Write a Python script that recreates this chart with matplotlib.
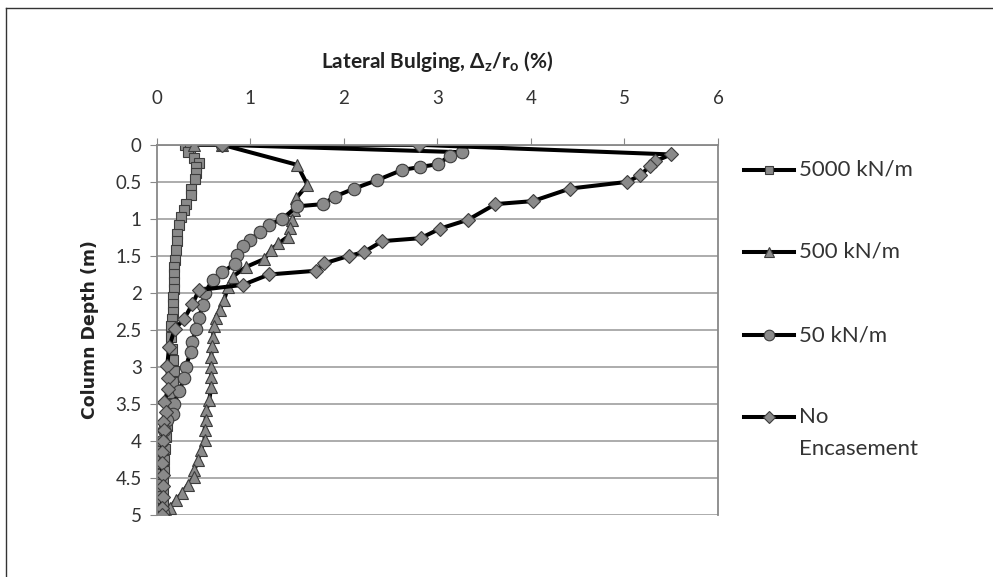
import matplotlib
matplotlib.use('Agg')
import matplotlib.pyplot as plt
from matplotlib.lines import Line2D

plt.rcParams['font.family'] = ['Lato', 'DejaVu Sans']
plt.rcParams['mathtext.fontset'] = 'custom'
plt.rcParams['mathtext.rm'] = 'Lato'
plt.rcParams['mathtext.bf'] = 'Lato:bold'

# 5000 kN/m (squares)
depth_5000 = [0, 0.05, 0.1, 0.18, 0.25, 0.3, 0.38, 0.46, 0.6, 0.68, 0.8, 0.88, 0.97,
              1.08, 1.2, 1.3, 1.42, 1.55, 1.65, 1.75, 1.85, 1.95, 2.05, 2.15, 2.25,
              2.35, 2.45, 2.6, 2.75, 2.9, 3.05, 3.2, 3.35, 3.5, 3.65, 3.8, 3.95, 4.1,
              4.25, 4.4, 4.55, 4.7, 4.85, 5.0]
bulge_5000 = [0.30, 0.35, 0.33, 0.40, 0.45, 0.42, 0.42, 0.41, 0.36, 0.36, 0.31, 0.29, 0.26,
              0.24, 0.22, 0.21, 0.20, 0.19, 0.18, 0.18, 0.18, 0.18, 0.17, 0.17, 0.17,
              0.16, 0.15, 0.15, 0.16, 0.17, 0.18, 0.17, 0.15, 0.14, 0.12, 0.11, 0.10, 0.09,
              0.08, 0.08, 0.07, 0.07, 0.06, 0.06]

# 500 kN/m (triangles)
depth_500 = [0, 0, 0.27, 0.54, 0.72, 0.88, 1.01, 1.12, 1.24, 1.33, 1.42, 1.54, 1.65,
             1.78, 1.92, 2.09, 2.23, 2.34, 2.45, 2.59, 2.72, 2.86, 3.0, 3.13, 3.27,
             3.45, 3.58, 3.72, 3.85, 3.98, 4.12, 4.26, 4.39, 4.48, 4.59, 4.7, 4.8, 4.9, 4.98]
bulge_500 = [0.40, 0.70, 1.50, 1.61, 1.49, 1.47, 1.45, 1.42, 1.40, 1.30, 1.22, 1.15, 0.95,
             0.81, 0.76, 0.72, 0.67, 0.63, 0.61, 0.60, 0.59, 0.58, 0.58, 0.58, 0.58,
             0.56, 0.53, 0.52, 0.51, 0.51, 0.47, 0.44, 0.40, 0.40, 0.33, 0.27, 0.20, 0.14, 0.11]

# 50 kN/m (circles)
depth_50 = [0, 0.1, 0.15, 0.26, 0.30, 0.34, 0.48, 0.59, 0.70, 0.80, 0.83, 1.0, 1.08,
            1.18, 1.28, 1.37, 1.49, 1.61, 1.72, 1.82, 2.0, 2.16, 2.34, 2.48, 2.66, 2.79,
            3.0, 3.15, 3.32, 3.5, 3.63, 3.72, 3.85, 4.0, 4.14, 4.28, 4.45, 4.59, 4.75, 4.97]
bulge_50 = [0.70, 3.26, 3.13, 3.01, 2.81, 2.62, 2.35, 2.11, 1.90, 1.78, 1.50, 1.34, 1.20,
            1.10, 1.00, 0.92, 0.86, 0.83, 0.70, 0.60, 0.51, 0.49, 0.45, 0.42, 0.38, 0.36,
            0.31, 0.29, 0.24, 0.18, 0.17, 0.11, 0.08, 0.05, 0.01, 0.00, 0.02, 0.02, 0.03, 0.06]

# No encasement (diamonds)
depth_no = [0, 0, 0.13, 0.22, 0.29, 0.41, 0.50, 0.59, 0.76, 0.80, 1.01, 1.13, 1.26,
            1.30, 1.45, 1.50, 1.60, 1.70, 1.75, 1.89, 1.96, 2.15, 2.35, 2.49, 2.73,
            2.99, 3.15, 3.3, 3.47, 3.6, 3.74, 3.85, 4.0, 4.15, 4.3, 4.45, 4.6, 4.75, 4.9, 5.0]
bulge_no = [0.70, 2.80, 5.50, 5.33, 5.27, 5.17, 5.03, 4.42, 4.02, 3.62, 3.33, 3.03, 2.82,
            2.41, 2.21, 2.05, 1.79, 1.70, 1.20, 0.92, 0.45, 0.38, 0.29, 0.19, 0.13,
            0.11, 0.12, 0.12, 0.08, 0.10, 0.07, 0.08, 0.06, 0.05, 0.05, 0.06, 0.07, 0.06, 0.05, 0.05]

series = [
    ('5000 kN/m', bulge_5000, depth_5000, 's', 7.5),
    ('500 kN/m', bulge_500, depth_500, '^', 8),
    ('50 kN/m', bulge_50, depth_50, 'o', 9),
    ('No\nEncasement', bulge_no, depth_no, 'D', 7),
]

fig = plt.figure(figsize=(9.93, 5.77), dpi=100)
ax = fig.add_axes([0.158, 0.107, 0.565, 0.642])

for label, x, y, mk, ms in series:
    ax.plot(x, y, color='black', lw=2.9, marker=mk, ms=ms,
            markerfacecolor='#8a8a8a', markeredgecolor='#3c3c3c', markeredgewidth=0.8)

ax.set_xlim(0, 6)
ax.set_ylim(5, 0)
ax.set_xticks(range(7))
ax.set_yticks([0, 0.5, 1, 1.5, 2, 2.5, 3, 3.5, 4, 4.5, 5])
ax.set_yticklabels(['0', '0.5', '1', '1.5', '2', '2.5', '3', '3.5', '4', '4.5', '5'])
ax.xaxis.tick_top()
ax.xaxis.set_label_position('top')
ax.tick_params(axis='both', labelsize=13.5, colors='#333333', length=5, color='#888888')
ax.tick_params(axis='x', pad=22)
ax.tick_params(axis='y', pad=6)
ax.grid(axis='y', color='#a6a6a6', lw=1.3)
ax.set_axisbelow(True)
for s in ax.spines.values():
    s.set_color('#888888')
    s.set_linewidth(1.3)
ax.spines['bottom'].set_visible(False)

ax.set_xlabel(r'Lateral Bulging, $\mathbf{\Delta}_{\mathbf{z}}$/r$_{\mathbf{o}}$ (%)',
              fontsize=15, fontweight='bold', labelpad=16, color='#222222')
ax.set_ylabel('Column Depth (m)', fontsize=12.5, fontweight='bold', labelpad=12,
              color='#222222', family='DejaVu Sans')

# legend drawn by hand so the marker sits on the first text line
leg_y = [170, 252, 335, 417]
for (label, x, y, mk, ms), py in zip(series, leg_y):
    fy = 1 - py / 577
    fig.add_artist(Line2D([744 / 993, 769 / 993, 794 / 993], [fy, fy, fy],
                          transform=fig.transFigure, color='black', lw=2.9,
                          marker=mk, ms=ms * 0.85, markevery=[1],
                          markerfacecolor='#8a8a8a', markeredgecolor='#3c3c3c',
                          markeredgewidth=0.8))
    for i, line in enumerate(label.split('\n')):
        fig.text(799 / 993, 1 - (py + 32 * i) / 577, line, fontsize=16, color='#333333',
                 va='center', ha='left')

# border on left and top
fig.add_artist(Line2D([6 / 993, 6 / 993], [0, 1 - 8 / 577], transform=fig.transFigure,
                      color='#333333', lw=1))
fig.add_artist(Line2D([6 / 993, 1], [1 - 8 / 577, 1 - 8 / 577], transform=fig.transFigure,
                      color='#333333', lw=1))

fig.savefig('out.png', dpi=100)
